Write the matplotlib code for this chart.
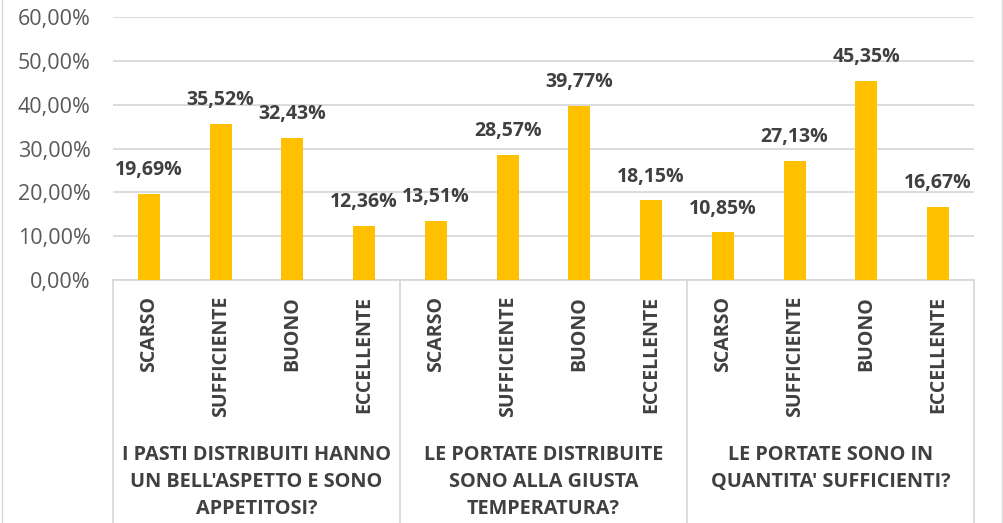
import matplotlib
matplotlib.use("Agg")
import matplotlib.pyplot as plt
import matplotlib.transforms as mtransforms
from matplotlib.lines import Line2D

categories = ["SCARSO", "SUFFICIENTE", "BUONO", "ECCELLENTE"]
groups = [
    "I PASTI DISTRIBUITI HANNO\nUN BELL'ASPETTO E SONO\nAPPETITOSI?",
    "LE PORTATE DISTRIBUITE\nSONO ALLA GIUSTA\nTEMPERATURA?",
    "LE PORTATE SONO IN\nQUANTITA' SUFFICIENTI?",
]
values_g1 = [19.69, 35.52, 32.43, 12.36]
values_g2 = [13.51, 28.57, 39.77, 18.15]
values_g3 = [10.85, 27.13, 45.35, 16.67]
yticks = [0, 10, 20, 30, 40, 50, 60]

plt.rcParams['font.family'] = ['Open Sans', 'DejaVu Sans']

W, H = 1004, 523
fig = plt.figure(figsize=(W / 100, H / 100), dpi=100)
left, right, top, bottom = 113, 974, 17, 280
ax = fig.add_axes([left / W, 1 - bottom / H, (right - left) / W, (bottom - top) / H])

values = values_g1 + values_g2 + values_g3
labels = categories * 3
x = list(range(len(values)))
bars = ax.bar(x, values, width=0.31, color="#FFC000", zorder=3)

for xi, v in zip(x, values):
    ax.annotate(f"{v:.2f}%".replace(".", ","), (xi, v), xytext=(0, 10),
                textcoords="offset points", ha="center", va="bottom",
                fontsize=14, fontweight="bold", color="#404040")

ax.set_xlim(-0.5, len(values) - 0.5)
ax.set_ylim(0, 60)
ax.set_yticks(yticks)
ax.set_yticklabels([f"{t:.2f}%".replace(".", ",") for t in yticks],
                   fontsize=15.5, color="#595959")
ax.tick_params(axis="y", length=0, pad=16)
ax.set_xticks([])
ax.yaxis.grid(True, color="#D9D9D9", linewidth=1.3, zorder=0)
for s in ["top", "right", "left"]:
    ax.spines[s].set_visible(False)
ax.spines["bottom"].set_color("#D9D9D9")
ax.spines["bottom"].set_linewidth(1.3)

trans = mtransforms.blended_transform_factory(ax.transData, fig.transFigure)
for sx in [-0.5, 3.5, 7.5, 11.5]:
    ax.add_line(Line2D([sx, sx], [0, 1 - bottom / H], transform=trans,
                       color="#D9D9D9", linewidth=1.3, clip_on=False))

for xi, lab in zip(x, labels):
    ax.text(xi, 1 - 296 / H, lab, transform=trans, rotation=90, ha="center",
            va="top", fontsize=14, fontweight="bold", color="#404040")

for gi, g in enumerate(groups):
    ax.text(gi * 4 + 1.5, 1 - 445 / H, g, transform=trans, ha="center",
            va="top", fontsize=14.3, fontweight="bold", color="#404040",
            linespacing=1.45, multialignment="center")

# chart area border
fig.add_artist(Line2D([2.5 / W, 2.5 / W], [0, 1], transform=fig.transFigure,
                      color="#D9D9D9", linewidth=1))
fig.add_artist(Line2D([1002.5 / W, 1002.5 / W], [0, 1], transform=fig.transFigure,
                      color="#D9D9D9", linewidth=1))

fig.savefig("out.png", dpi=100)
